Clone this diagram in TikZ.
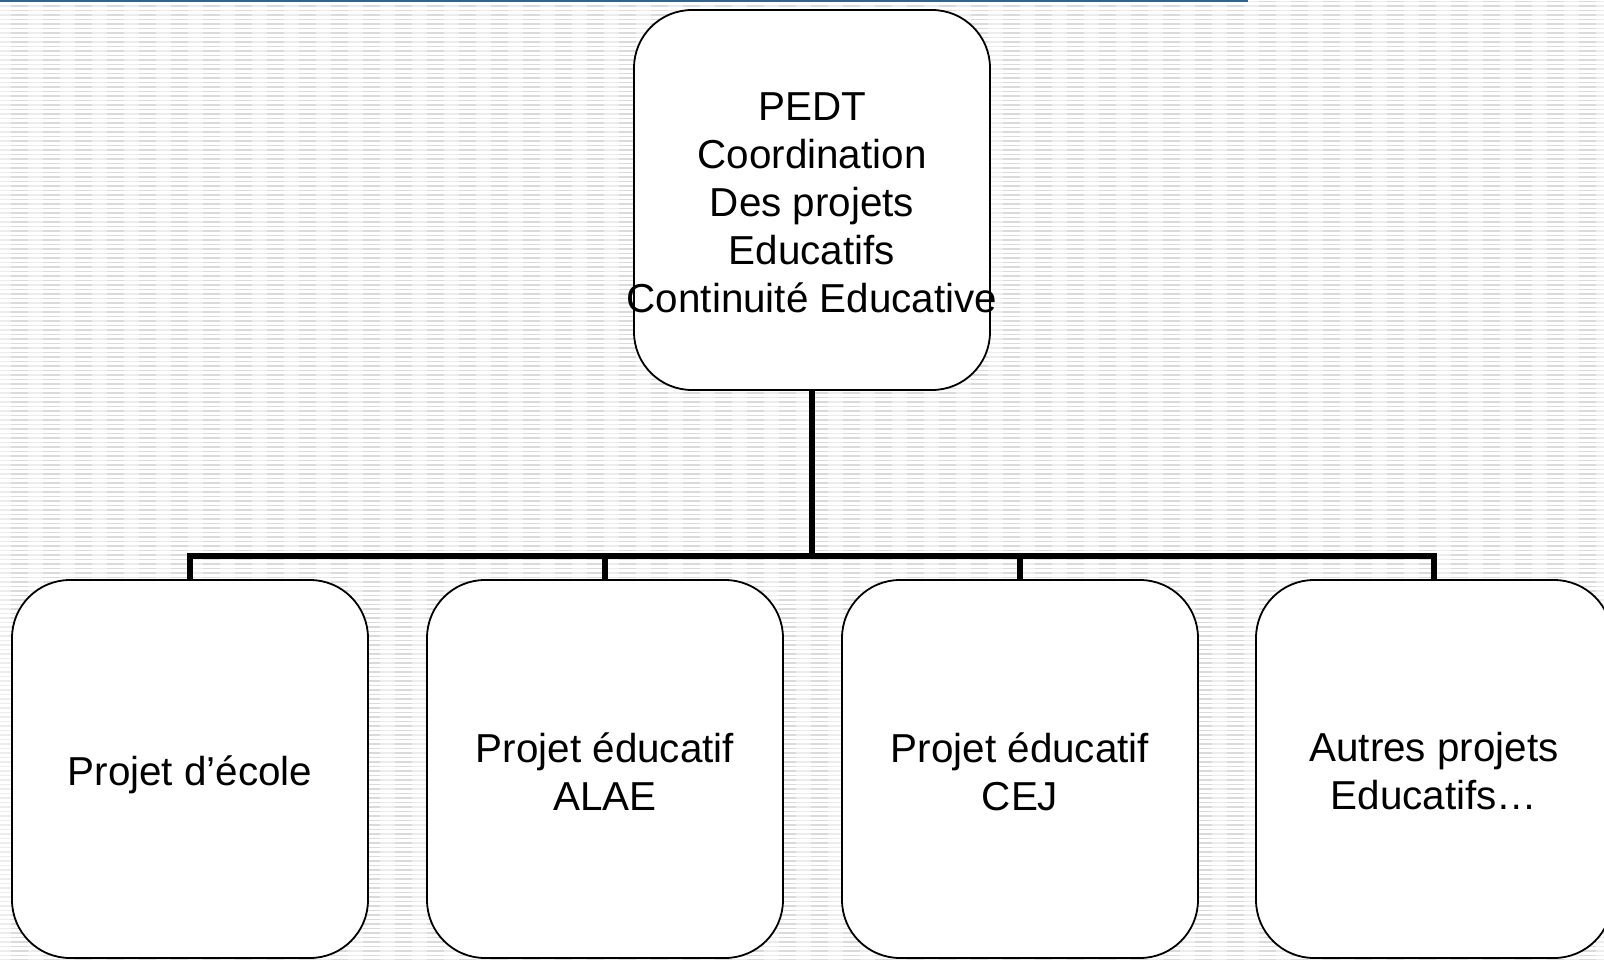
\documentclass[tikz,border=0pt]{standalone}
\usepackage{fontspec}
\setmainfont{Liberation Sans}
\definecolor{stripebase}{RGB}{236,236,236}
\definecolor{stripedash}{RGB}{218,218,218}
\definecolor{topline}{RGB}{59,96,140}
\begin{document}
\begin{tikzpicture}[x=1pt,y=-1pt,
  box/.style={draw=black,line width=1.8pt,fill=white,rounded corners=58pt,
    minimum width=356pt,inner sep=0pt},
  lbl/.style={align=center,inner sep=0pt,font=\fontsize{40.4}{48}\selectfont},
  conn/.style={line width=5.5pt,line join=miter,draw=black}]
\useasboundingbox (0,0) rectangle (1604,960);
\clip (0,0) rectangle (1604,960);
% background stripes
\foreach \i in {0,...,213}{
  \draw[stripebase,line width=1.3pt] (0,\i*4.5+1.5) -- (1604,\i*4.5+1.5);
  \draw[stripedash,line width=1.3pt,dash pattern=on 17pt off 15pt,dash phase=21pt] (0,\i*4.5+1.5) -- (1604,\i*4.5+1.5);
}
% top rule
\draw[topline,line width=1.2pt] (0,1) -- (1248,1);
% boxes
\node[box,minimum height=380pt] (top) at (812,200) {};
\node[box,minimum height=378pt] (b1) at (190,769) {};
\node[box,minimum height=378pt] (b2) at (605,769) {};
\node[box,minimum height=378pt] (b3) at (1020,769) {};
\node[box,minimum height=378pt] (b4) at (1434,769) {};
% labels
\node[lbl] (ttop) at ([yshift=-2.5pt]top.center) {PEDT\\Coordination\\Des projets\\Educatifs\\Continuité Educative};
\node[lbl] (t1) at ([yshift=-6pt]b1.center) {Projet d’école};
\node[lbl] (t2) at ([yshift=-2.5pt]b2.center) {Projet éducatif\\ALAE};
\node[lbl] (t3) at ([yshift=-2.5pt]b3.center) {Projet éducatif\\CEJ};
\node[lbl] (t4) at ([yshift=-2.5pt]b4.center) {Autres projets\\Educatifs…};
% connectors
\coordinate (bus) at (812,556);
\draw[conn] (top.south) -- (bus);
\draw[conn] (bus) -| (b1.north);
\draw[conn] (bus) -| (b2.north);
\draw[conn] (bus) -| (b3.north);
\draw[conn] (bus) -| (b4.north);
\end{tikzpicture}
\end{document}
